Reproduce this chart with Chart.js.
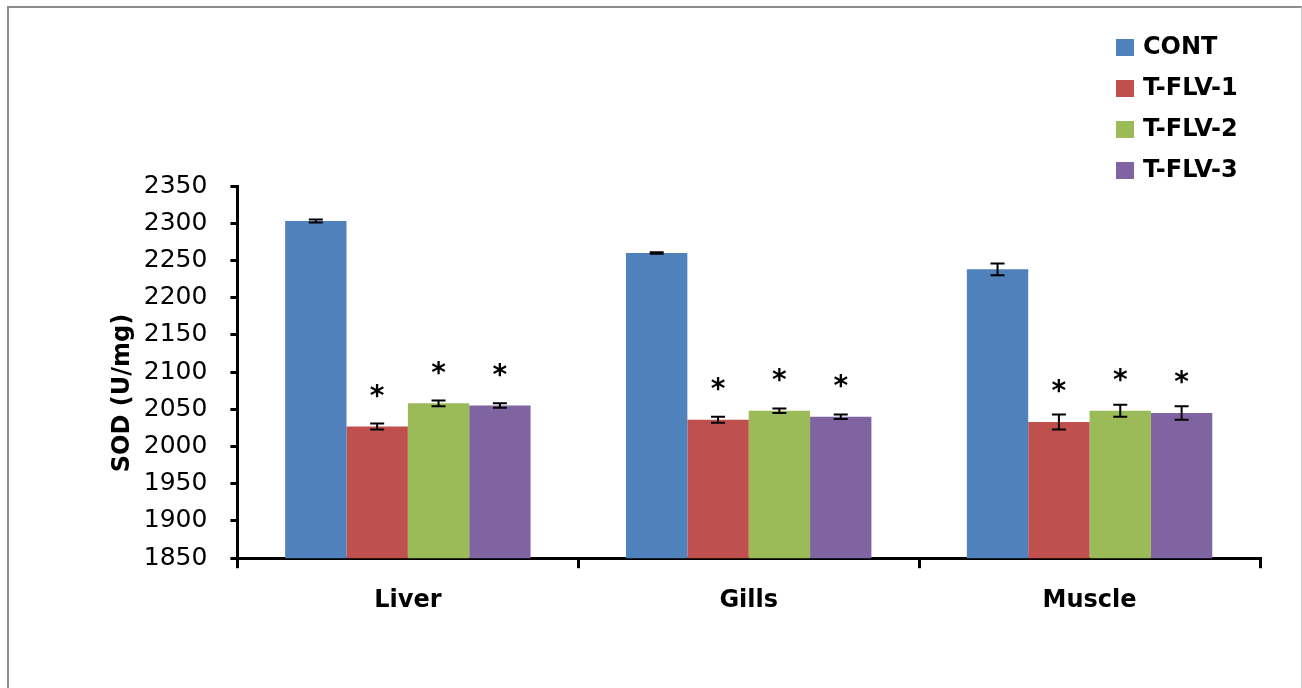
<!DOCTYPE html>
<html lang="en">
<head>
  <meta charset="UTF-8">
  <title>SOD (U/mg)</title>
  <script src="https://cdn.jsdelivr.net/npm/chart.js"></script>
  <style>
    * { margin: 0; padding: 0; box-sizing: border-box; }
    body { background: #fff; width: 1302px; height: 688px; overflow: hidden; position: relative; }
    .frame {
      position: absolute;
      left: 7px; top: 6px;
      width: 1295px; height: 700px;
      border-left: 2px solid #8c8c8c;
      border-top: 2px solid #8c8c8c;
      border-right: 1px solid #d0d0d0;
    }
    .chart-box { position: absolute; left: 0; top: 0; width: 1302px; height: 688px; }
  </style>
</head>
<body>
  <div class="frame"></div>
  <div class="chart-box"><canvas id="sodChart"></canvas></div>

  <script>
    const tissues = ['Liver', 'Gills', 'Muscle'];
    const seriesNames = ['CONT', 'T-FLV-1', 'T-FLV-2', 'T-FLV-3'];
    const seriesColors = ['#4f81bd', '#c0504d', '#9bbb59', '#8064a2'];

    // mean values per group (Liver, Gills, Muscle)
    const cont = [2303, 2260, 2238];
    const flv1 = [2027, 2036, 2033];
    const flv2 = [2058, 2048, 2048];
    const flv3 = [2055, 2040, 2045];

    // error bars (+/-)
    const contErr = [2, 1, 8];
    const flv1Err = [4, 4, 10];
    const flv2Err = [4, 3, 8];
    const flv3Err = [3, 3, 9];

    // significance marks
    const sigMarks = ['', '*', '*', '*'];

    const yTicks = [1850, 1900, 1950, 2000, 2050, 2100, 2150, 2200, 2250, 2300, 2350];

    const FONT = "'DejaVu Sans', sans-serif";

    const values = [cont, flv1, flv2, flv3];
    const errors = [contErr, flv1Err, flv2Err, flv3Err];

    // error bars + asterisks
    const errorBarPlugin = {
      id: 'errorBars',
      afterDatasetsDraw(chart) {
        const ctx = chart.ctx;
        const y = chart.scales.y;
        ctx.save();
        chart.data.datasets.forEach((ds, i) => {
          const meta = chart.getDatasetMeta(i);
          meta.data.forEach((bar, j) => {
            const v = ds.data[j];
            const e = errors[i][j];
            const top = y.getPixelForValue(v + e);
            const bot = y.getPixelForValue(v - e);
            ctx.strokeStyle = '#000';
            ctx.lineWidth = 2;
            ctx.beginPath();
            ctx.moveTo(bar.x, top); ctx.lineTo(bar.x, bot);
            ctx.moveTo(bar.x - 7, top); ctx.lineTo(bar.x + 7, top);
            ctx.moveTo(bar.x - 7, bot); ctx.lineTo(bar.x + 7, bot);
            ctx.stroke();
            if (sigMarks[i]) {
              ctx.fillStyle = '#000';
              ctx.font = 'bold 28px ' + FONT;
              ctx.textAlign = 'center';
              ctx.textBaseline = 'middle';
              ctx.fillText(sigMarks[i], bar.x, bar.y - 29);
            }
          });
        });
        ctx.restore();
      }
    };

    // vertical legend in the top right corner
    const sideLegend = {
      id: 'sideLegend',
      afterDraw(chart) {
        const ctx = chart.ctx;
        ctx.save();
        ctx.font = 'bold 24px ' + FONT;
        ctx.textBaseline = 'middle';
        ctx.textAlign = 'left';
        chart.data.datasets.forEach((ds, i) => {
          const cy = 47 + i * 41;
          ctx.fillStyle = ds.backgroundColor;
          ctx.fillRect(1116, cy - 8, 18, 17);
          ctx.fillStyle = '#000';
          ctx.fillText(ds.label, 1143, cy + 1);
        });
        ctx.restore();
      }
    };

    new Chart(document.getElementById('sodChart'), {
      type: 'bar',
      data: {
        labels: tissues,
        datasets: seriesNames.map((name, i) => ({
          label: name,
          data: values[i],
          backgroundColor: seriesColors[i],
          borderWidth: 0,
          categoryPercentage: 0.72,
          barPercentage: 1.0
        }))
      },
      options: {
        responsive: true,
        maintainAspectRatio: false,
        animation: false,
        layout: { autoPadding: false, padding: { left: 106, right: 42, top: 186, bottom: 55 } },
        plugins: {
          legend: { display: false },
          tooltip: { enabled: false }
        },
        scales: {
          x: {
            grid: {
              offset: true,
              drawOnChartArea: false,
              drawTicks: true,
              tickLength: 10,
              color: '#000',
              lineWidth: 3
            },
            border: { display: true, color: '#000', width: 3 },
            ticks: {
              color: '#000',
              padding: 18,
              font: { family: FONT, size: 24, weight: 'bold' }
            }
          },
          y: {
            min: 1850,
            max: 2350,
            afterBuildTicks(scale) {
              scale.ticks = yTicks.map(v => ({ value: v }));
            },
            grid: {
              drawOnChartArea: false,
              drawTicks: true,
              tickLength: 7,
              color: '#000',
              lineWidth: 3
            },
            border: { display: true, color: '#000', width: 3 },
            ticks: {
              color: '#000',
              padding: 23,
              font: { family: FONT, size: 25 },
              callback: v => String(v)
            },
            title: {
              display: true,
              // trailing spaces nudge the title a bit lower, as in the original
              text: 'SOD (U/mg)' + '\u00a0'.repeat(5),
              color: '#000',
              // tick padding is counted twice by Chart.js; pull the title back in
              padding: { top: 2, bottom: -16 },
              font: { family: FONT, size: 24, weight: 'bold' }
            }
          }
        }
      },
      plugins: [errorBarPlugin, sideLegend]
    });
  </script>
</body>
</html>
